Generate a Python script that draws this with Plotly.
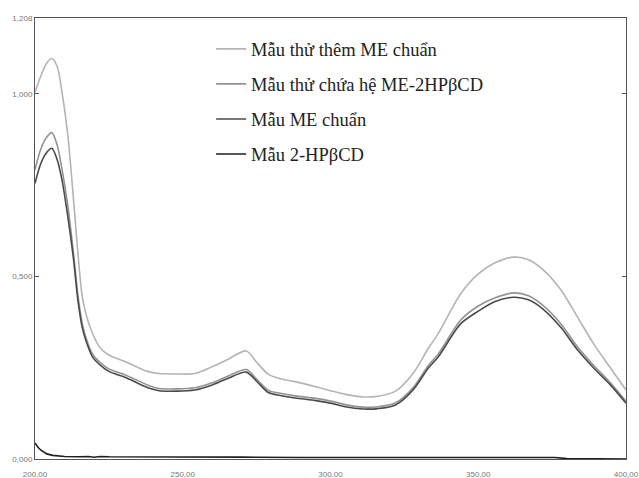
import plotly.graph_objects as go

# wavelengths (nm)
wl = [200, 202, 204, 205.7, 207.5, 209, 211, 213, 214.5, 216, 217.5, 219.5, 222, 225, 231, 238,
      242, 248, 254, 260, 265, 271.5, 275, 279, 283, 288, 295, 300, 305, 311, 316, 322, 328, 333,
      336.5, 344, 350, 355.5, 362, 367, 372, 378, 383.5, 389, 394.5, 400]

them_me = [1.005, 1.05, 1.085, 1.097, 1.075, 1.012, 0.895, 0.715, 0.565, 0.445, 0.39, 0.343, 0.305,
           0.285, 0.265, 0.24, 0.234, 0.233, 0.234, 0.253, 0.272, 0.296, 0.265, 0.232, 0.22, 0.212,
           0.198, 0.187, 0.177, 0.17, 0.172, 0.186, 0.235, 0.302, 0.344, 0.452, 0.507, 0.537, 0.553,
           0.546, 0.518, 0.463, 0.39, 0.316, 0.252, 0.189]

chua_he = [0.792, 0.85, 0.882, 0.894, 0.86, 0.80, 0.70, 0.565, 0.45, 0.37, 0.326, 0.287, 0.265,
           0.247, 0.229, 0.203, 0.193, 0.192, 0.195, 0.209, 0.226, 0.245, 0.219, 0.188, 0.18, 0.173,
           0.166, 0.159, 0.149, 0.142, 0.143, 0.154, 0.196, 0.255, 0.288, 0.38, 0.419, 0.441, 0.455,
           0.447, 0.42, 0.37, 0.308, 0.257, 0.211, 0.158]

me_chuan = [0.755, 0.81, 0.84, 0.851, 0.82, 0.77, 0.67, 0.55, 0.436, 0.36, 0.318, 0.279, 0.258,
            0.24, 0.222, 0.196, 0.187, 0.186, 0.189, 0.203, 0.22, 0.238, 0.213, 0.182, 0.174, 0.167,
            0.16, 0.153, 0.143, 0.137, 0.138, 0.148, 0.19, 0.248, 0.28, 0.37, 0.405, 0.431, 0.443,
            0.436, 0.41, 0.36, 0.3, 0.25, 0.205, 0.153]

wl_hp = [200, 201, 202, 203, 204, 206, 208, 210, 215, 218, 220, 222, 225, 230, 240, 245, 247, 249,
         251, 255, 270, 290, 310, 330, 345, 350, 355, 360, 365, 370, 376, 380, 390, 400]
hp_cd = [0.044, 0.032, 0.024, 0.018, 0.014, 0.010, 0.008, 0.007, 0.006, 0.007, 0.005, 0.007, 0.006,
         0.006, 0.006, 0.005, 0.007, 0.005, 0.006, 0.005, 0.005, 0.004, 0.004, 0.004, 0.004, 0.005,
         0.004, 0.005, 0.004, 0.004, 0.004, 0.001, 0.0, 0.0]

names = ["Mẫu thử thêm ME chuẩn", "Mẫu thử chứa hệ ME-2HPβCD", "Mẫu ME chuẩn", "Mẫu 2-HPβCD"]
colors = ["#b4b4b4", "#939393", "#4a4a4a", "#1e1e1e"]

x_ticks = [200, 250, 300, 350, 400]
x_labels = ["200,00", "250,00", "300,00", "350,00", "400,00"]
y_ticks = [0, 0.5, 1.0, 1.208]
y_labels = ["0,000", "0,500", "1,000", "1,208"]

fig = go.Figure()
series = [(wl, them_me), (wl, chua_he), (wl, me_chuan), (wl_hp, hp_cd)]
for i, ((xs, ys), nm, c) in enumerate(zip(series, names, colors)):
    fig.add_trace(go.Scatter(
        x=xs, y=ys, name=nm, mode="lines", legendgroup=f"g{i}",
        line=dict(color=c, width=1.6, shape="spline" if i < 3 else "linear", smoothing=0.8),
    ))

fig.update_layout(
    width=639, height=478,
    margin=dict(l=35, r=13, t=18, b=19, autoexpand=False),
    paper_bgcolor="white", plot_bgcolor="white",
    showlegend=True,
    legend=dict(
        x=0.298, y=0.972, xanchor="left", yanchor="top",
        bgcolor="rgba(0,0,0,0)", borderwidth=0,
        font=dict(family="Liberation Serif", size=18.5, color="#222222"),
        tracegroupgap=8, itemwidth=30,
    ),
    xaxis=dict(
        range=[200, 400], tickvals=x_ticks, ticktext=x_labels, automargin=False,
        showgrid=False, zeroline=False, showline=True, linecolor="#555555", linewidth=1,
        mirror=True, ticks="", ticklabelstandoff=7, ticklabeloverflow="allow",
        tickfont=dict(family="Liberation Sans", size=8, color="#777777"),
    ),
    yaxis=dict(
        range=[0, 1.208], tickvals=y_ticks, ticktext=y_labels, automargin=False,
        showgrid=False, zeroline=False, showline=True, linecolor="#555555", linewidth=1,
        mirror="ticks", ticks="inside", ticklen=4, tickcolor="#555555",
        tickfont=dict(family="Liberation Sans", size=8, color="#777777"),
    ),
)

fig.write_html("out.html")
